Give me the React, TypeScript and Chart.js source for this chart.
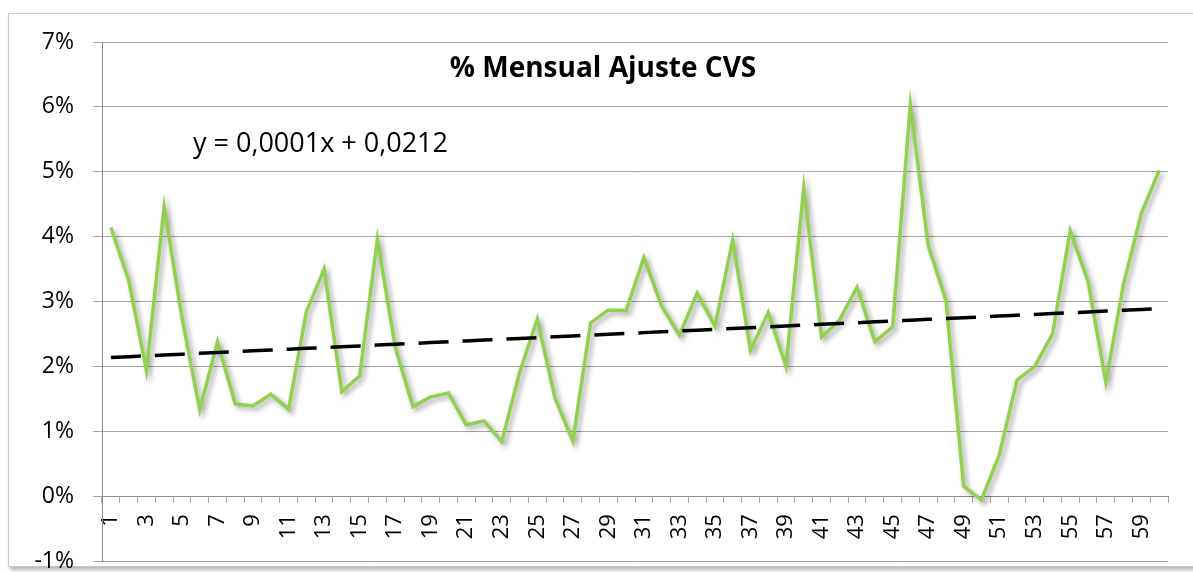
import React, { useEffect, useRef } from 'react';
import { Chart, registerables } from 'chart.js';

Chart.register(...registerables);

const categories = [
  '1', '2', '3', '4', '5', '6', '7', '8', '9', '10',
  '11', '12', '13', '14', '15', '16', '17', '18', '19', '20',
  '21', '22', '23', '24', '25', '26', '27', '28', '29', '30',
  '31', '32', '33', '34', '35', '36', '37', '38', '39', '40',
  '41', '42', '43', '44', '45', '46', '47', '48', '49', '50',
  '51', '52', '53', '54', '55', '56', '57', '58', '59', '60',
];

// % Mensual Ajuste CVS (values in percent)
const monthlyValues = [
  4.14, 3.33, 1.94, 4.46, 2.75, 1.33, 2.38, 1.42, 1.39, 1.57,
  1.34, 2.84, 3.50, 1.61, 1.85, 3.96, 2.30, 1.38, 1.53, 1.59,
  1.10, 1.16, 0.84, 1.90, 2.73, 1.51, 0.85, 2.67, 2.87, 2.86,
  3.68, 2.93, 2.48, 3.13, 2.62, 3.95, 2.25, 2.83, 2.00, 4.75,
  2.45, 2.71, 3.22, 2.38, 2.61, 6.03, 3.87, 3.02, 0.15, -0.06,
  0.63, 1.79, 2.00, 2.50, 4.09, 3.31, 1.76, 3.27, 4.36, 5.02,
];

const yTickValues = [-1, 0, 1, 2, 3, 4, 5, 6, 7];

const titleText = '% Mensual Ajuste CVS';
const equationText = 'y = 0,0001x + 0,0212';

// Linear (least squares) trendline of the series, as Excel draws it
function linearTrend(values: number[]): number[] {
  const n = values.length;
  let sx = 0, sy = 0, sxy = 0, sxx = 0;
  values.forEach((v, i) => {
    const x = i + 1;
    sx += x; sy += v; sxy += x * v; sxx += x * x;
  });
  const slope = (n * sxy - sx * sy) / (n * sxx - sx * sx);
  const intercept = (sy - slope * sx) / n;
  return values.map((_, i) => intercept + slope * (i + 1));
}

const textPlugin = {
  id: 'chartTexts',
  afterDraw(chart: any) {
    const ctx = chart.ctx;
    ctx.save();
    ctx.fillStyle = '#000';
    ctx.textBaseline = 'alphabetic';
    ctx.font = 'bold 28px "Open Sans"';
    ctx.textAlign = 'center';
    ctx.fillText(titleText, 603, 77);
    ctx.font = '27px "Open Sans"';
    ctx.textAlign = 'left';
    ctx.fillText(equationText, 193, 152);
    ctx.restore();
  },
};

const shadowPlugin = {
  id: 'lineShadow',
  beforeDatasetDraw(chart: any, args: any) {
    if (args.index !== 1) return;
    const ctx = chart.ctx;
    ctx.save();
    ctx.shadowColor = 'rgba(0,0,0,0.35)';
    ctx.shadowBlur = 5;
    ctx.shadowOffsetX = 3;
    ctx.shadowOffsetY = 3;
  },
  afterDatasetDraw(chart: any, args: any) {
    if (args.index !== 1) return;
    chart.ctx.restore();
  },
};

const zeroPadding = (s: any) => {
  s.paddingTop = 0;
  s.paddingBottom = 0;
  s.paddingLeft = 0;
  s.paddingRight = 0;
};

export default function App() {
  const canvasRef = useRef<HTMLCanvasElement | null>(null);

  useEffect(() => {
    if (!canvasRef.current) return;
    const trend = linearTrend(monthlyValues);
    const chart = new Chart(canvasRef.current, {
      type: 'line',
      data: {
        labels: categories,
        datasets: [
          {
            label: 'Lineal',
            data: trend,
            borderColor: '#000000',
            borderWidth: 3.5,
            borderDash: [30, 14],
            pointRadius: 0,
            fill: false,
            order: 0,
          },
          {
            label: '% Mensual Ajuste CVS',
            data: monthlyValues,
            borderColor: '#92D050',
            borderWidth: 3.5,
            pointRadius: 0,
            tension: 0,
            fill: false,
            order: 1,
          },
        ],
      },
      options: {
        animation: false,
        responsive: false,
        maintainAspectRatio: false,
        layout: { padding: { left: 0, top: 42, right: 25, bottom: 11 } },
        plugins: {
          legend: { display: false },
          title: { display: false },
          tooltip: { enabled: false },
        },
        scales: {
          x: {
            type: 'category',
            position: { y: 0 } as any,
            offset: true,
            afterFit: zeroPadding,
            grid: {
              drawOnChartArea: false,
              drawTicks: true,
              tickLength: 6,
              offset: true,
              color: '#A6A6A6',
              lineWidth: 1,
            },
            border: { display: true, color: '#8C8C8C', width: 1 },
            ticks: {
              autoSkip: false,
              minRotation: 90,
              maxRotation: 90,
              padding: 12,
              color: '#000',
              font: { family: '"Open Sans"', size: 22 },
              callback: (_v: any, idx: number) => (idx % 2 === 0 ? categories[idx] : ''),
            },
          },
          y: {
            min: -1,
            max: 7,
            afterFit: (s: any) => { zeroPadding(s); s.width = 102; },
            afterBuildTicks: (s: any) => { s.ticks = yTickValues.map((v) => ({ value: v })); },
            grid: {
              color: '#A6A6A6',
              lineWidth: 1,
              drawTicks: true,
              tickLength: 9,
            },
            border: { display: true, color: '#8C8C8C', width: 1 },
            ticks: {
              padding: 19,
              color: '#000',
              font: { family: '"Open Sans"', size: 23 },
              callback: (v: any) => `${v}%`,
            },
          },
        },
      },
      plugins: [shadowPlugin, textPlugin],
    });
    return () => chart.destroy();
  }, []);

  return (
    <div style={{ position: 'fixed', left: 0, top: 0, width: 1193, height: 572, background: '#fff', overflow: 'hidden' }}>
      <div
        style={{
          position: 'absolute',
          left: 8,
          top: 13,
          width: 1190,
          height: 554,
          boxSizing: 'border-box',
          border: '1px solid #C8C8C8',
          background: '#fff',
          boxShadow: '2px 3px 4px rgba(0,0,0,0.3)',
        }}
      />
      <canvas ref={canvasRef} width={1193} height={572} style={{ position: 'absolute', left: 0, top: 0 }} />
    </div>
  );
}
